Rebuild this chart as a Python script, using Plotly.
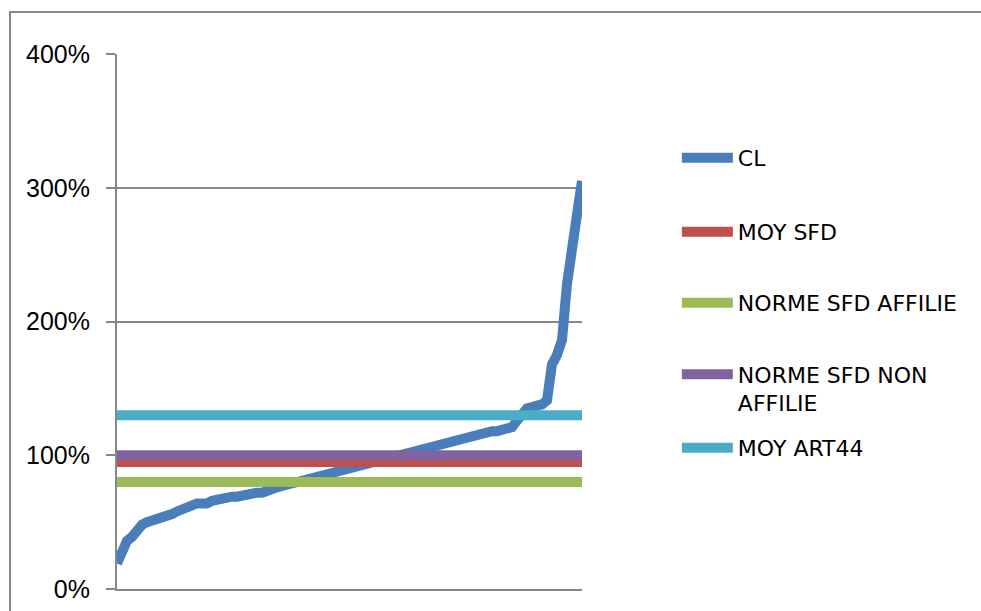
import plotly.graph_objects as go

# CL ratio per institution, sorted ascending (in %)
cl_values = [
    19, 30, 36, 39, 44, 48, 50, 51, 52, 54,
    55, 56, 58, 60, 62, 63, 64, 64, 64, 66,
    67, 68, 68, 69, 69, 70, 71, 72, 72, 72,
    74, 75, 76, 77, 78, 79, 80, 81, 82, 83,
    84, 85, 86, 87, 88, 88, 89, 90, 91, 93,
    94, 94, 95, 96, 97, 98, 99, 100, 101, 102,
    103, 104, 105, 106, 107, 109, 110, 111, 112, 113,
    114, 115, 116, 116, 117, 118, 118, 119, 120, 121,
    126, 132, 135, 136, 137, 138, 141, 168, 175, 186,
    228, 249, 280, 305,
]

# Reference levels (in %)
moy_sfd = 95
norme_sfd_affilie = 80
norme_sfd_non_affilie = 100
moy_art44 = 130

series_names = ["CL", "MOY SFD", "NORME SFD AFFILIE", "NORME SFD NON<br>AFFILIE", "MOY ART44"]
series_colors = ["#4A7EBB", "#C0504D", "#9BBB59", "#8064A2", "#4BACC6"]
y_ticks = [0, 100, 200, 300, 400]
y_tick_labels = ["0%", "100%", "200%", "300%", "400%"]

n = len(cl_values)
x = list(range(n))
levels = [cl_values, [moy_sfd] * n, [norme_sfd_affilie] * n,
          [norme_sfd_non_affilie] * n, [moy_art44] * n]

GRID = "#878787"
LEG_FONT = dict(family="DejaVu Sans", size=22, color="#000000")

fig = go.Figure()
legend_ids = ["legend", "legend2", "legend3", "legend4", "legend5"]
for name, color, ys, lg in zip(series_names, series_colors, levels, legend_ids):
    fig.add_trace(go.Scatter(
        x=x, y=ys, mode="lines", name=name,
        line=dict(color=color, width=10),
        legend=lg, hoverinfo="skip",
    ))

# one legend box per entry, stacked to the right of the plot
legend_y = [0.8056, 0.6673, 0.5346, 0.3738, 0.2636]
legend_x = 1.204
legend_layout = {}
for lg, ly in zip(legend_ids, legend_y):
    legend_layout[lg] = dict(
        x=legend_x, y=ly, xanchor="left", yanchor="middle",
        font=LEG_FONT, bgcolor="rgba(0,0,0,0)", borderwidth=0,
        itemwidth=51, valign="top",
    )

fig.update_layout(
    width=981, height=611,
    margin=dict(l=117, r=399, t=54, b=22, autoexpand=False),
    paper_bgcolor="#FFFFFF", plot_bgcolor="#FFFFFF",
    showlegend=True,
    xaxis=dict(
        range=[0, n - 1], showgrid=False, zeroline=False,
        showticklabels=False, ticks="",
        showline=True, linecolor=GRID, linewidth=2,
    ),
    yaxis=dict(
        range=[0, 400], tickvals=y_ticks, ticktext=y_tick_labels,
        showgrid=True, gridcolor=GRID, gridwidth=2, zeroline=False,
        showline=True, linecolor=GRID, linewidth=2,
        ticks="outside", ticklen=9, tickwidth=2, tickcolor=GRID,
        ticklabelstandoff=11,
        tickfont=dict(family="Liberation Sans", size=25, color="#000000"),
    ),
    shapes=[dict(
        type="rect", xref="paper", yref="paper",
        x0=-0.2301, x1=1.9, y0=-0.06, y1=1.0785,
        line=dict(color=GRID, width=2), fillcolor="rgba(0,0,0,0)", layer="below",
    )],
    **legend_layout,
)

fig.write_html("out.html")
